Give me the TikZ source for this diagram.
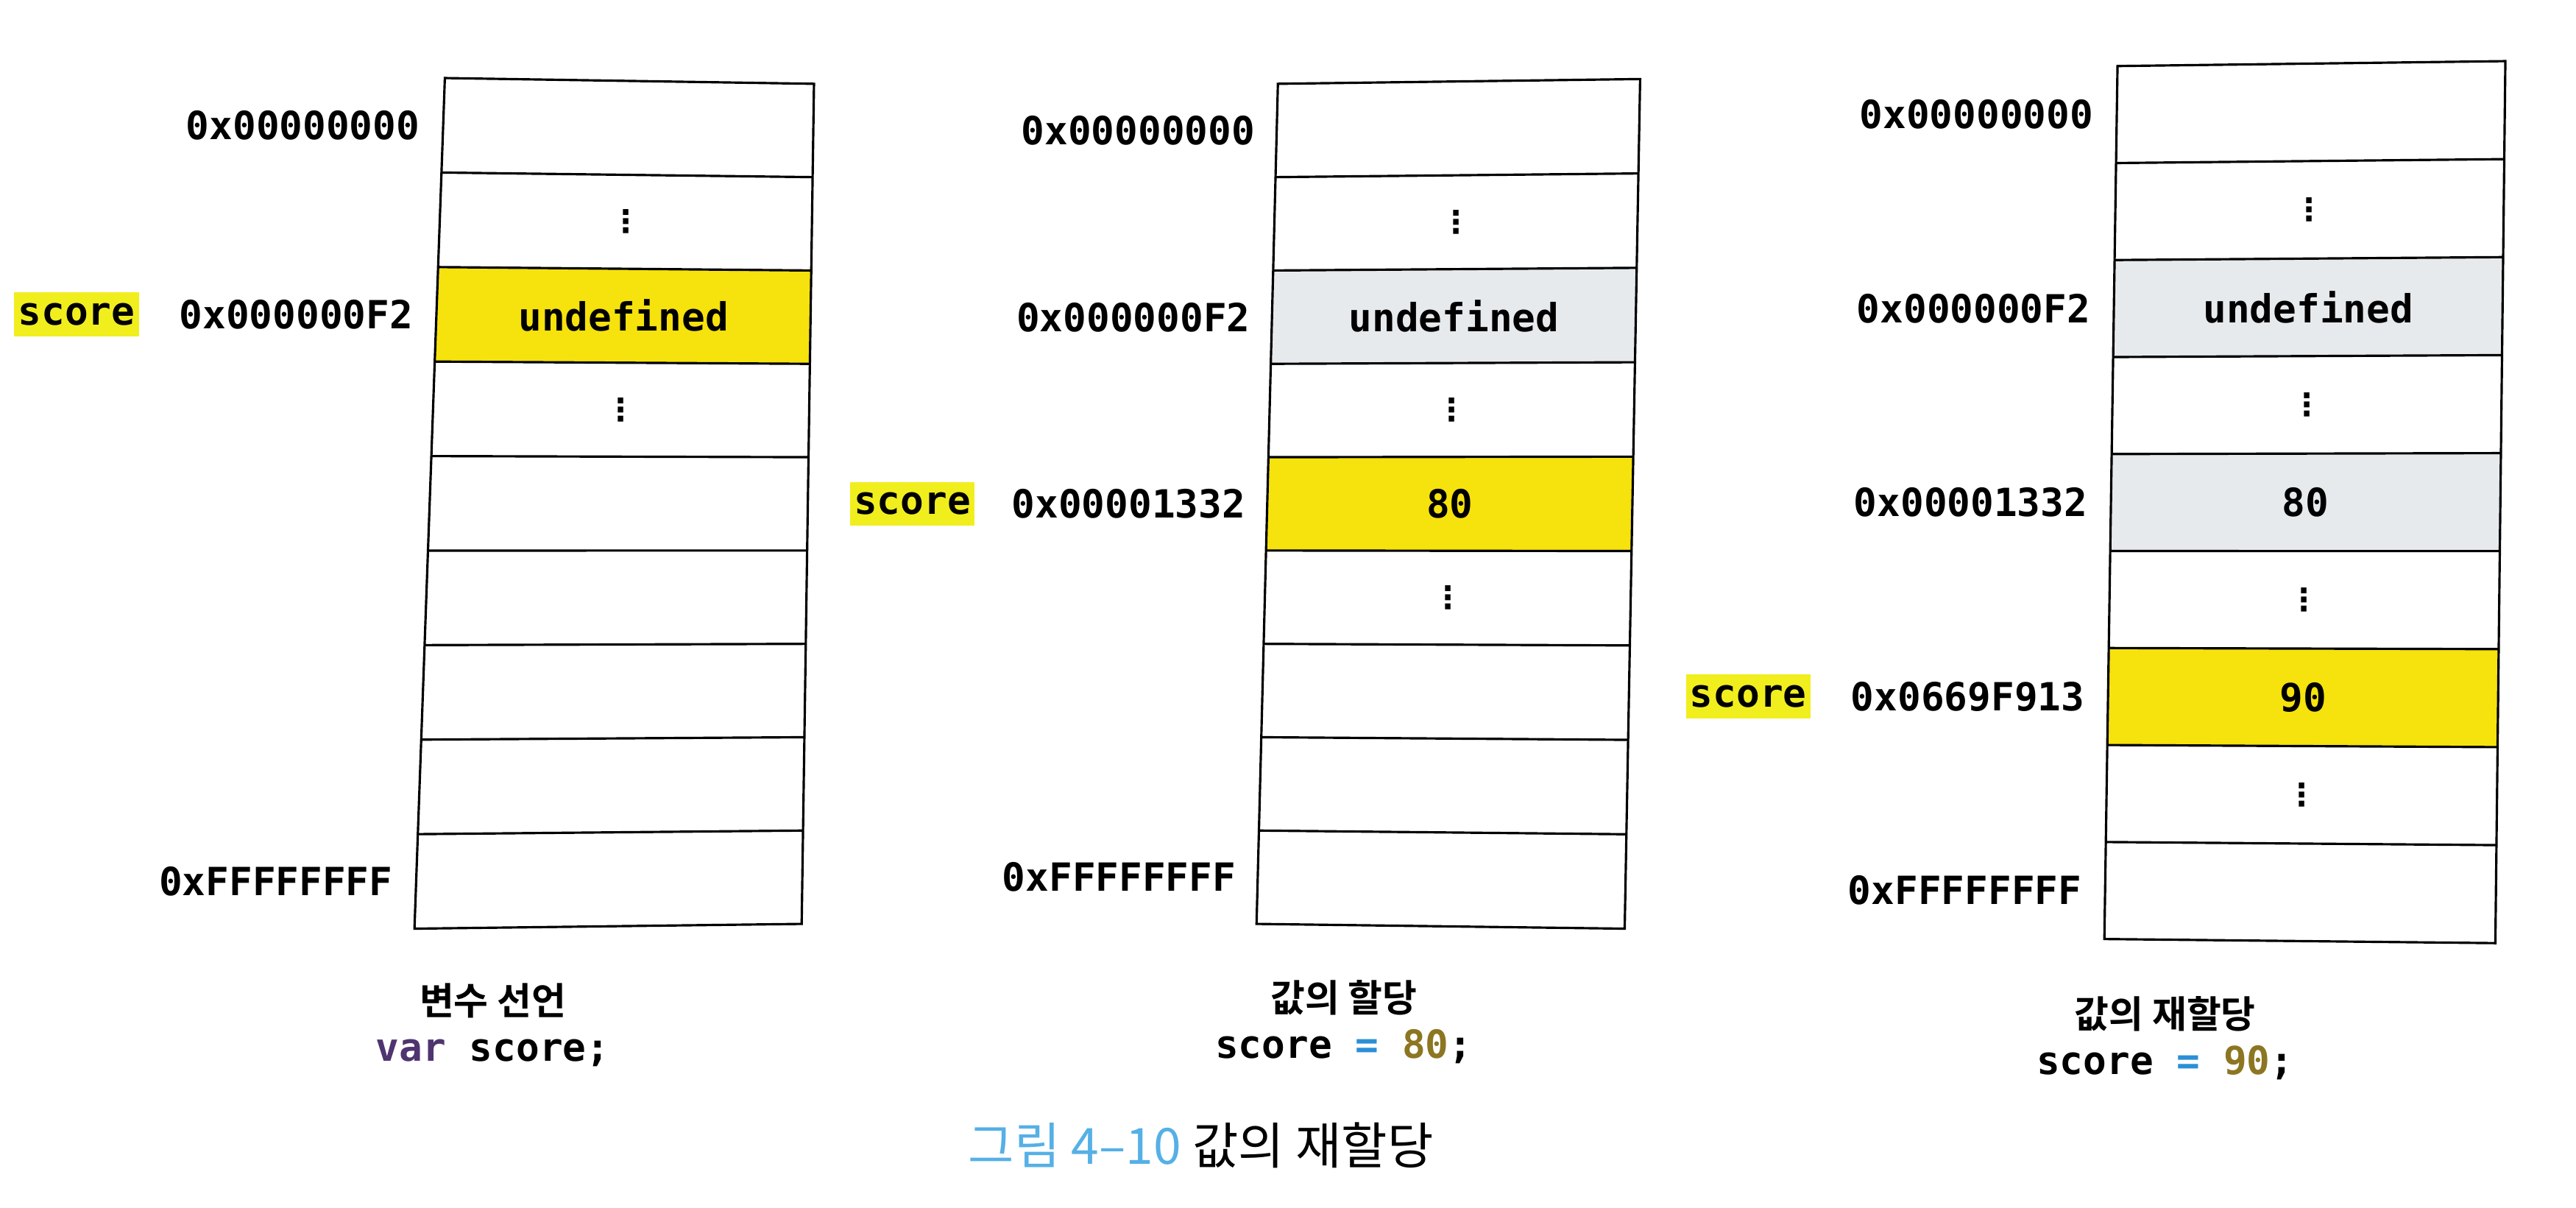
\documentclass[tikz,border=0pt]{standalone}
\usepackage{fontspec}
\usetikzlibrary{calc}
\newfontfamily\monofam{DejaVu Sans Mono}
\newfontfamily\dvfam{DejaVu Sans}
\newfontfamily\krfam{Noto Sans CJK KR}[BoldFont={Noto Sans CJK KR Bold}]
\definecolor{cellyel}{HTML}{F6E20C}
\definecolor{hlyel}{HTML}{F1EE1E}
\definecolor{cellgray}{HTML}{E7EAED}
\definecolor{capblue}{HTML}{55B0E6}
\definecolor{eqblue}{HTML}{2B8FD6}
\definecolor{numgold}{HTML}{8C7622}
\definecolor{kwpurple}{HTML}{4F3470}
\newcommand\mfont{\fontsize{15pt}{18pt}\selectfont\monofam\bfseries}
\newcommand\dfont{\fontsize{12pt}{14pt}\selectfont\dvfam\bfseries}
\newcommand\kbfont{\fontsize{14.5pt}{17pt}\selectfont\krfam\bfseries}
\newcommand\kcfont{\fontsize{19.3pt}{23pt}\selectfont\krfam}
\tikzset{
  gridline/.style={line width=0.9pt, line join=miter},
  celltxt/.style={inner sep=0pt, font=\mfont},
  addr/.style={inner sep=0pt, anchor=east, font=\mfont},
  hl/.style={fill=hlyel, inner xsep=1.5pt, inner ysep=0pt, minimum height=17pt, anchor=east, font=\mfont},
  vdots/.style={inner sep=0pt, font=\dfont},
  kcap/.style={inner sep=0pt, font=\kbfont},
  codetxt/.style={inner sep=0pt, font=\mfont},
  figcap/.style={inner sep=0pt, font=\kcfont},
}
% #1 name, #2 TL, #3 TR, #4 BL, #5 BR
\newcommand\MemCol[5]{%
  \coordinate (#1TL) at #2;
  \coordinate (#1TR) at #3;
  \coordinate (#1BL) at #4;
  \coordinate (#1BR) at #5;
  \foreach \i in {0,...,9}{%
    \coordinate (#1L\i) at ($(#1TL)!\i/9!(#1BL)$);
    \coordinate (#1R\i) at ($(#1TR)!\i/9!(#1BR)$);
  }
  \foreach \i in {0,...,8}{%
    \coordinate (#1ml\i) at ($(#1TL)!\i/9+0.05556!(#1BL)$);
    \coordinate (#1mr\i) at ($(#1TR)!\i/9+0.05556!(#1BR)$);
    \coordinate (#1C\i) at ($(#1ml\i)!0.5!(#1mr\i)$);
  }
}
\newcommand\CellFill[4]{\fill[#4] (#1L#2) -- (#1R#2) -- (#1R#3) -- (#1L#3) -- cycle;}
\newcommand\MemGrid[1]{%
  \draw[gridline] (#1L0) -- (#1R0) -- (#1R9) -- (#1L9) -- cycle;
  \foreach \i in {1,...,8}{\draw[gridline] (#1L\i) -- (#1R\i);}
}
\begin{document}
\begin{tikzpicture}[x=0.02232cm,y=-0.02232cm]
\useasboundingbox (0,0) rectangle (1568.1,735.2);

\MemCol{a}{(270.8,47.5)}{(495.5,51.0)}{(252.3,565.2)}{(488.0,562.3)}
\MemCol{b}{(777.9,51.0)}{(998.4,48.1)}{(764.9,562.3)}{(989.0,565.2)}
\MemCol{c}{(1289.0,40.2)}{(1525.1,37.2)}{(1281.0,571.5)}{(1519.0,574.0)}

% fills
\CellFill{a}{2}{3}{cellyel}
\CellFill{b}{2}{3}{cellgray}
\CellFill{b}{4}{5}{cellyel}
\CellFill{c}{2}{3}{cellgray}
\CellFill{c}{4}{5}{cellgray}
\CellFill{c}{6}{7}{cellyel}

% grids
\MemGrid{a}
\MemGrid{b}
\MemGrid{c}

% column 1 contents
\node[vdots] (a1) at (aC1) {⋮};
\node[celltxt] (a2) at (aC2) {undefined};
\node[vdots] (a3) at (aC3) {⋮};
\node[addr] (aa0) at ($(aml0)+(-14,0)$) {0x00000000};
\node[addr] (aa2) at ($(aml2)+(-14,0)$) {0x000000F2};
\node[addr] (aa8) at ($(aml8)+(-14,0)$) {0xFFFFFFFF};
\node[hl] (ascore) at ($(aa2.west)+(-24,0)$) {score};

% column 2 contents
\node[vdots] (b1) at (bC1) {⋮};
\node[celltxt] (b2) at (bC2) {undefined};
\node[vdots] (b3) at (bC3) {⋮};
\node[celltxt] (b4) at (bC4) {80};
\node[vdots] (b5) at (bC5) {⋮};
\node[addr] (ba0) at ($(bml0)+(-13,0)$) {0x00000000};
\node[addr] (ba2) at ($(bml2)+(-13,0)$) {0x000000F2};
\node[addr] (ba4) at ($(bml4)+(-13,0)$) {0x00001332};
\node[addr] (ba8) at ($(bml8)+(-13,0)$) {0xFFFFFFFF};
\node[hl] (bscore) at ($(ba4.west)+(-22,0)$) {score};

% column 3 contents
\node[vdots] (c1) at (cC1) {⋮};
\node[celltxt] (c2) at (cC2) {undefined};
\node[vdots] (c3) at (cC3) {⋮};
\node[celltxt] (c4) at (cC4) {80};
\node[vdots] (c5) at (cC5) {⋮};
\node[celltxt] (c6) at (cC6) {90};
\node[vdots] (c7) at (cC7) {⋮};
\node[addr] (ca0) at ($(cml0)+(-14,0)$) {0x00000000};
\node[addr] (ca2) at ($(cml2)+(-14,0)$) {0x000000F2};
\node[addr] (ca4) at ($(cml4)+(-14,0)$) {0x00001332};
\node[addr] (ca6) at ($(cml6)+(-14,0)$) {0x0669F913};
\node[addr] (ca8) at ($(cml8)+(-14,0)$) {0xFFFFFFFF};
\node[hl] (cscore) at ($(ca6.west)+(-24,0)$) {score};

% captions under columns
\node[kcap] (alab) at (300,609) {변수 선언};
\node[codetxt] (acode) at (300,641) {{\color{kwpurple}var} score;};
\node[kcap] (blab) at (818,607) {값의 할당};
\node[codetxt] (bcode) at (818,637) {score {\color{eqblue}=} {\color{numgold}80};};
\node[kcap] (clab) at (1318,617) {값의 재할당};
\node[codetxt] (ccode) at (1318,647) {score {\color{eqblue}=} {\color{numgold}90};};

% figure caption
\node[figcap] (fig) at (731,697) {{\color{capblue}그림 4–10} 값의 재할당};
\end{tikzpicture}
\end{document}
